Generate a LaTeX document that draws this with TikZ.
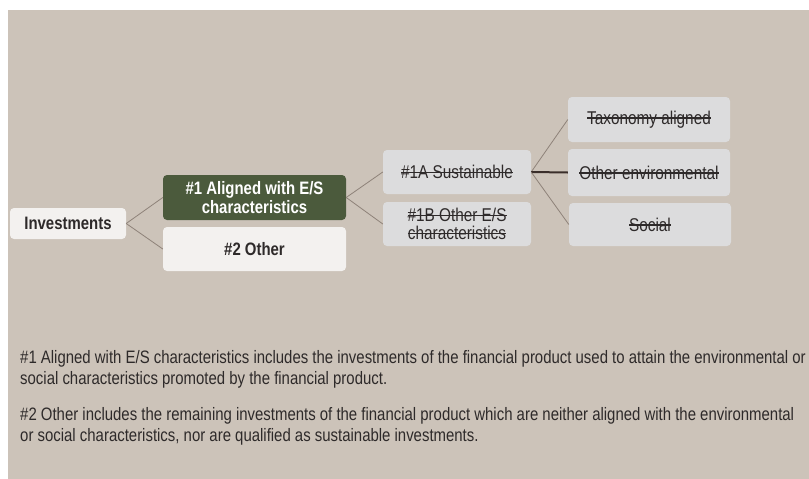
\documentclass[tikz,border=0pt]{standalone}
\usepackage{fontspec}
\setmainfont{Liberation Sans}[FakeStretch=0.83]
\definecolor{bgc}{HTML}{CCC3B9}
\definecolor{boxlight}{HTML}{F3F1EF}
\definecolor{boxgreen}{HTML}{4B5A3C}
\definecolor{boxgray}{HTML}{DCDCDD}
\definecolor{linec}{HTML}{8E8279}
\definecolor{txt}{HTML}{2E2A2A}
\definecolor{strong}{HTML}{3A2E2A}
\newsavebox\strkbox
\newcommand{\strk}[1]{\sbox\strkbox{#1}\rlap{\raisebox{0.3em}{\rule{\wd\strkbox}{1.3pt}}}\usebox\strkbox}
\begin{document}
\begin{tikzpicture}[x=1pt,y=-1pt,
  box/.style={rounded corners=4pt, inner sep=0pt, align=center, text=txt, font=\fontsize{18.5}{18.5}\selectfont},
  lightbox/.style={box, fill=boxlight, font=\fontsize{18}{18.5}\selectfont\bfseries},
  greenbox/.style={box, fill=boxgreen, text=white, font=\fontsize{18}{18.5}\selectfont\bfseries},
  graybox/.style={box, fill=boxgray},
  conn/.style={draw=linec, line width=0.8pt},
  body/.style={anchor=base west, inner sep=0pt, text=txt, font=\fontsize{18}{20}\selectfont}]
\useasboundingbox (0,0) rectangle (809,479);
\fill[bgc] (8,10) rectangle (809,479);

\node[lightbox, minimum width=116pt, minimum height=31pt] (inv) at (68,223.5) {Investments};
\node[greenbox, minimum width=183pt, minimum height=45pt] (a1) at (254.5,197.5) {\#1 Aligned with E/S\\characteristics};
\node[lightbox, minimum width=183pt, minimum height=44pt] (o2) at (254.5,249) {\#2 Other};
\node[graybox, minimum width=148pt, minimum height=44pt] (s1a) at (457,172) {\strk{\#1A Sustainable}};
\node[graybox, minimum width=148pt, minimum height=44pt] (s1b) at (457,224) {\strk{\#1B Other E/S}\\\strk{characteristics}};
\node[graybox, minimum width=162pt, minimum height=45pt] (tax) at (649,119.5) {\strk{Taxonomy aligned}};
\node[graybox, minimum width=162pt, minimum height=47pt] (env) at (649,172.5) {\strk{Other environmental}};
\node[graybox, minimum width=162pt, minimum height=43pt] (soc) at (650,224.5) {\strk{Social}};

\draw[conn] (inv.east) -- (a1.west);
\draw[conn] (inv.east) -- (o2.west);
\draw[conn] (a1.east) -- (s1a.west);
\draw[conn] (a1.east) -- (s1b.west);
\draw[conn] (s1a.east) -- (tax.west);
\draw[draw=strong, line width=2pt] (s1a.east) -- (env.west);
\draw[conn] (s1a.east) -- (soc.west);

\node[body] (t1) at (20,363) {\#1 Aligned with E/S characteristics includes the investments of the financial product used to attain the environmental or};
\node[body] (t2) at (20,384) {social characteristics promoted by the financial product.};
\node[body] (t3) at (20,420) {\#2 Other includes the remaining investments of the financial product which are neither aligned with the environmental};
\node[body] (t4) at (20,441) {or social characteristics, nor are qualified as sustainable investments.};
\end{tikzpicture}
\end{document}
